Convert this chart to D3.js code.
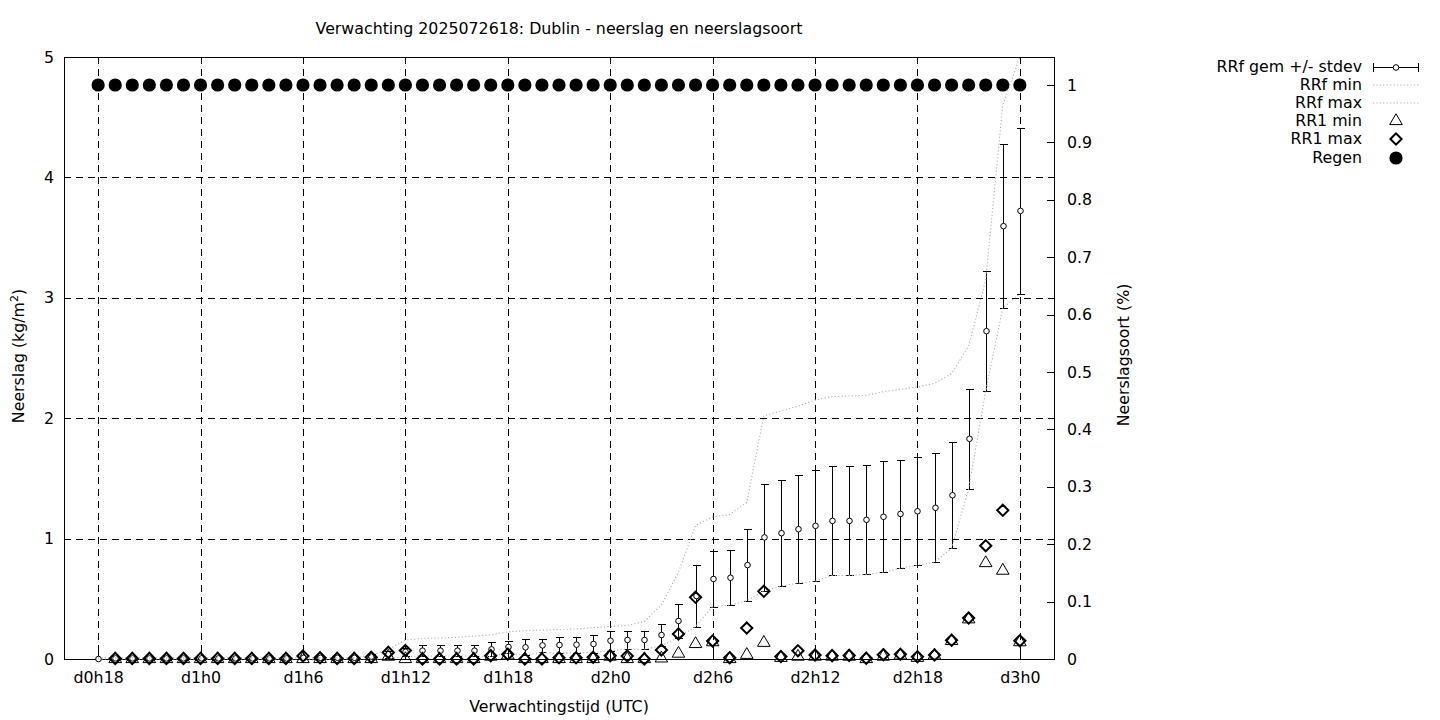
<!DOCTYPE html>
<html><head><meta charset="utf-8">
<script src="https://cdn.jsdelivr.net/npm/d3@7"></script>
<style>
body{margin:0;background:#fff}
svg{display:block}
text{font-family:"DejaVu Sans",sans-serif;font-size:15.8px;fill:#000}
</style>
</head><body>
<svg id="c" width="1440" height="720"></svg>
<script>
// ---------- data ----------
const titleText = "Verwachting 2025072618: Dublin - neerslag en neerslagsoort";
const xLabel = "Verwachtingstijd (UTC)";
const yLabel = "Neerslag (kg/m";
const y2Label = "Neerslagsoort (%)";
const hours = [18,19,20,21,22,23,24,25,26,27,28,29,30,31,32,33,34,35,36,37,38,39,40,41,42,43,44,45,
  46,47,48,49,50,51,52,53,54,55,56,57,58,59,60,61,62,63,64,65,66,67,68,69,70,71,72];
const tickHours = [18,24,30,36,42,48,54,60,66,72];
const tickLabels = ["d0h18","d1h0","d1h6","d1h12","d1h18","d2h0","d2h6","d2h12","d2h18","d3h0"];
const leftTicks = [0,1,2,3,4,5];
const gridY = [1,2,3,4];
const rightTicks = [0,0.1,0.2,0.3,0.4,0.5,0.6,0.7,0.8,0.9,1];
const rightTickLabels = ["0","0.1","0.2","0.3","0.4","0.5","0.6","0.7","0.8","0.9","1"];

const rrfMean = [0,0.005,0.005,0.005,0.005,0.005,0.005,0.005,0.005,0.005,0.005,0.005,0.01,0.01,0.01,0.01,0.02,0.04,0.06,
  0.069,0.069,0.069,0.069,0.08,0.10,0.097,0.113,0.116,0.119,0.125,0.152,0.158,0.158,0.199,0.316,
  0.523,0.665,0.675,0.78,1.01,1.045,1.078,1.106,1.147,1.147,1.156,1.181,1.205,1.227,1.256,1.36,
  1.829,2.723,3.595,3.722];
const rrfStd = [0,0.005,0.005,0.005,0.005,0.005,0.005,0.005,0.005,0.005,0.005,0.005,0.01,0.01,0.01,0.01,0.02,0.03,0.035,
  0.044,0.044,0.044,0.044,0.059,0.05,0.066,0.056,0.069,0.066,0.072,0.083,0.077,0.077,0.089,0.138,
  0.255,0.229,0.228,0.297,0.445,0.441,0.447,0.461,0.453,0.453,0.453,0.461,0.451,0.448,0.452,0.441,
  0.416,0.497,0.68,0.69];
const rrfMin = [0,0,0,0,0,0,0,0,0,0,0,0,0,0,0,0,0,0,0.02,
  0.025,0.025,0.025,0.025,0.02,0.05,0.03,0.057,0.047,0.053,0.053,0.069,0.081,0.081,0.11,0.18,
  0.27,0.437,0.447,0.483,0.567,0.604,0.631,0.645,0.694,0.694,0.703,0.72,0.754,0.779,0.804,0.919,
  1.413,2.226,2.915,3.032];
const rrfMax = [0.01,0.01,0.01,0.01,0.01,0.01,0.01,0.01,0.01,0.01,0.01,0.01,0.01,0.01,0.01,0.01,0.03,0.08,0.158,
  0.17,0.175,0.18,0.19,0.2,0.225,0.235,0.24,0.245,0.25,0.26,0.27,0.28,0.31,0.45,0.72,
  1.11,1.18,1.2,1.3,2.02,2.06,2.1,2.15,2.18,2.185,2.19,2.22,2.24,2.26,2.29,2.37,
  2.6,3.15,4.6,5.0];
const rr1Min = [null,0,0,0,0,0,0,0,0,0,0,0,0,0,0,0,0,0.02,0,
  0,0,0,0,0.02,0.03,0,0,0,0,0,0.02,0,0,0.005,0.045,
  0.125,0.14,0,0.035,0.135,0.01,0.02,0.02,0.02,0.02,0,0.02,0.03,0.01,0.03,0.15,
  0.33,0.797,0.734,0.14];
const rr1Max = [null,0.005,0.005,0.005,0.005,0.005,0.005,0.005,0.005,0.005,0.005,0.005,0.025,0.01,0.005,0.005,0.015,0.055,0.07,
  0,0,0,0,0.028,0.04,0,0,0.01,0.01,0.015,0.028,0.025,0,0.075,0.208,
  0.512,0.15,0.011,0.257,0.562,0.02,0.069,0.033,0.028,0.03,0.006,0.036,0.039,0.019,0.033,0.155,
  0.34,0.941,1.235,0.152];
const regen = [1,1,1,1,1,1,1,1,1,1,1,1,1,1,1,1,1,1,1,1,1,1,1,1,1,1,1,1,
  1,1,1,1,1,1,1,1,1,1,1,1,1,1,1,1,1,1,1,1,1,1,1,1,1,1,1];
const legendLabels = ["RRf gem +/- stdev","RRf min","RRf max","RR1 min","RR1 max","Regen"];

// ---------- layout ----------
const L = 64, R = 1054, T = 57, B = 659;
const svg = d3.select("#c");
const x = d3.scaleLinear().domain([16, 74]).range([L, R]);
const y = d3.scaleLinear().domain([0, 5]).range([B, T]);
const y2 = d3.scaleLinear().domain([0, 1.0488]).range([B, T]);
const px = v => Math.round(v) + 0.5;

// grid
const grid = svg.append("g").attr("stroke", "#000").attr("stroke-width", 1).attr("stroke-dasharray", "7,5");
grid.selectAll("line.v").data(tickHours).join("line")
  .attr("x1", d => px(x(d))).attr("x2", d => px(x(d)))
  .attr("y1", T).attr("y2", B);
grid.selectAll("line.h").data(gridY).join("line")
  .attr("x1", L).attr("x2", R)
  .attr("y1", d => px(y(d))).attr("y2", d => px(y(d)));

// axes
function styleAxis(g) {
  g.select(".domain").remove();
  g.selectAll("text").attr("font-family", "DejaVu Sans").attr("font-size", "14.5px").attr("fill", "#000");
  g.selectAll("line").attr("stroke", "#000").attr("shape-rendering", "crispEdges");
}
svg.append("g").attr("transform", `translate(${L},0)`)
  .call(d3.axisLeft(y).tickValues(leftTicks).tickFormat(d3.format("d")).tickSize(-7).tickPadding(10))
  .call(styleAxis);
svg.append("g").attr("transform", `translate(${R},0)`)
  .call(d3.axisRight(y2).tickValues(rightTicks).tickFormat((d, i) => rightTickLabels[i]).tickSize(-7).tickPadding(13))
  .call(styleAxis);
svg.append("g").attr("transform", `translate(0,${B})`)
  .call(d3.axisBottom(x).tickValues(tickHours).tickFormat((d, i) => tickLabels[i]).tickSize(-7).tickPadding(13))
  .call(styleAxis);
svg.append("g").attr("transform", `translate(0,${T})`)
  .call(d3.axisTop(x).tickValues(tickHours).tickFormat("").tickSize(-7))
  .call(styleAxis);

// border
svg.append("rect").attr("x", L + 0.5).attr("y", T + 0.5).attr("width", R - L).attr("height", B - T)
  .attr("fill", "none").attr("stroke", "#000").attr("stroke-width", 1);

// data rows
const rows = hours.map((h, i) => ({h, mean: rrfMean[i], sd: rrfStd[i], mn: rrfMin[i], mx: rrfMax[i],
  r1min: rr1Min[i], r1max: rr1Max[i], regen: regen[i]}));

// error bars
const eb = svg.append("g").attr("stroke", "#000").attr("stroke-width", 1).attr("shape-rendering", "crispEdges");
rows.forEach(d => {
  const xx = px(x(d.h)), yt = px(y(d.mean + d.sd)), yb = px(y(Math.max(0, d.mean - d.sd)));
  eb.append("line").attr("x1", xx).attr("x2", xx).attr("y1", yt).attr("y2", yb);
  eb.append("line").attr("x1", xx - 4).attr("x2", xx + 4).attr("y1", yt).attr("y2", yt);
  eb.append("line").attr("x1", xx - 4).attr("x2", xx + 4).attr("y1", yb).attr("y2", yb);
});
svg.append("g").selectAll("circle").data(rows).join("circle")
  .attr("cx", d => px(x(d.h))).attr("cy", d => y(d.mean)).attr("r", 2.8)
  .attr("fill", "#fff").attr("stroke", "#000").attr("stroke-width", 1);

// dotted min/max
const dotStyle = s => s.attr("fill", "none").attr("stroke", "#b0b0b0").attr("stroke-width", 1.1).attr("stroke-dasharray", "1.2,2.2");
svg.append("path").datum(rows).attr("d", d3.line().x(d => x(d.h)).y(d => y(d.mn))).call(dotStyle);
svg.append("path").datum(rows).attr("d", d3.line().x(d => x(d.h)).y(d => y(d.mx))).call(dotStyle);

// marker shapes
const triPath = "M0,-7.2L6.3,3.6L-6.3,3.6Z";
const diaPath = "M0,-5.6L5.6,0L0,5.6L-5.6,0Z";

svg.append("g").selectAll("path").data(rows.filter(d => d.r1min !== null)).join("path")
  .attr("d", triPath).attr("transform", d => `translate(${x(d.h)},${y(d.r1min)})`)
  .attr("fill", "none").attr("stroke", "#000").attr("stroke-width", 1);
svg.append("g").selectAll("path").data(rows.filter(d => d.r1max !== null)).join("path")
  .attr("d", diaPath).attr("transform", d => `translate(${x(d.h)},${y(d.r1max)})`)
  .attr("fill", "none").attr("stroke", "#000").attr("stroke-width", 2);
svg.append("g").selectAll("circle").data(rows).join("circle")
  .attr("cx", d => x(d.h)).attr("cy", d => y2(d.regen)).attr("r", 6.6).attr("fill", "#000");

// titles
svg.append("text").attr("x", 559).attr("y", 34).attr("text-anchor", "middle").text(titleText);
svg.append("text").attr("x", 559).attr("y", 712).attr("text-anchor", "middle").text(xLabel);
const yl = svg.append("text").attr("transform", "translate(24,356) rotate(-90)").attr("text-anchor", "middle");
yl.append("tspan").text(yLabel);
yl.append("tspan").attr("dy", -6).attr("font-size", "11px").text("2");
yl.append("tspan").attr("dy", 6).text(")");
svg.append("text").attr("transform", "translate(1129,355) rotate(-90)").attr("text-anchor", "middle").text(y2Label);

// legend
const legY = [67, 85, 103, 121, 139, 158];
const lg = svg.append("g");
legendLabels.forEach((t, i) => {
  lg.append("text").attr("x", 1362).attr("y", legY[i] + 5).attr("text-anchor", "end").text(t);
});
const lx1 = 1373, lx2 = 1419, lxc = 1396;
lg.append("line").attr("x1", lx1).attr("x2", lx2).attr("y1", legY[0] + 0.5).attr("y2", legY[0] + 0.5).attr("stroke", "#000");
lg.append("line").attr("x1", lx1 + 0.5).attr("x2", lx1 + 0.5).attr("y1", legY[0] - 4).attr("y2", legY[0] + 5).attr("stroke", "#000");
lg.append("line").attr("x1", lx2 - 0.5).attr("x2", lx2 - 0.5).attr("y1", legY[0] - 4).attr("y2", legY[0] + 5).attr("stroke", "#000");
lg.append("circle").attr("cx", lxc).attr("cy", legY[0] + 0.5).attr("r", 2.8).attr("fill", "#fff").attr("stroke", "#000");
[1, 2].forEach(i => lg.append("line").attr("x1", lx1).attr("x2", lx2).attr("y1", legY[i]).attr("y2", legY[i]).call(dotStyle));
lg.append("path").attr("d", triPath).attr("transform", `translate(${lxc},${legY[3]})`).attr("fill", "none").attr("stroke", "#000");
lg.append("path").attr("d", diaPath).attr("transform", `translate(${lxc},${legY[4]})`).attr("fill", "none").attr("stroke", "#000").attr("stroke-width", 2);
lg.append("circle").attr("cx", lxc).attr("cy", legY[5]).attr("r", 6.6).attr("fill", "#000");
</script>
</body></html>
